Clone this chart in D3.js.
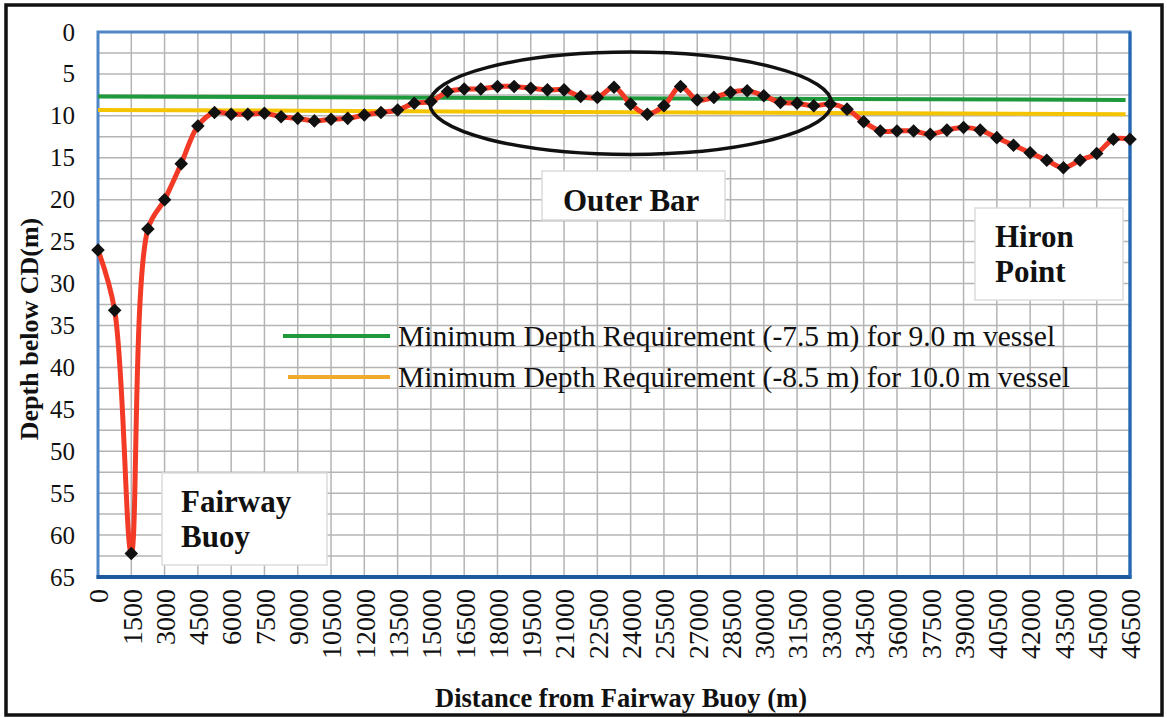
<!DOCTYPE html>
<html>
<head>
<meta charset="utf-8">
<script src="https://cdn.jsdelivr.net/npm/d3@7"></script>
<style>
  body { margin: 0; background: #fff; }
  svg text { font-family: "Liberation Serif", "Times New Roman", serif; fill: #111; }
</style>
</head>
<body>
<div id="chart"></div>
<script>
// distance from fairway buoy (m), one sounding every 750 m
var distances = [0, 750, 1500, 2250, 3000, 3750, 4500, 5250, 6000, 6750, 7500, 8250, 9000, 9750,
  10500, 11250, 12000, 12750, 13500, 14250, 15000, 15750, 16500, 17250, 18000, 18750, 19500,
  20250, 21000, 21750, 22500, 23250, 24000, 24750, 25500, 26250, 27000, 27750, 28500, 29250,
  30000, 30750, 31500, 32250, 33000, 33750, 34500, 35250, 36000, 36750, 37500, 38250, 39000,
  39750, 40500, 41250, 42000, 42750, 43500, 44250, 45000, 45750, 46500];

// depth below chart datum (m)
var depths = [26.0, 33.2, 62.2, 23.5, 20.0, 15.7, 11.2, 9.6, 9.8, 9.8, 9.7, 10.1, 10.3, 10.6,
  10.4, 10.3, 9.9, 9.6, 9.3, 8.5, 8.3, 7.1, 6.8, 6.8, 6.5, 6.5, 6.7,
  6.9, 6.9, 7.7, 7.8, 6.6, 8.6, 9.8, 8.8, 6.5, 8.1, 7.8, 7.2, 7.0,
  7.6, 8.4, 8.5, 8.8, 8.6, 9.2, 10.7, 11.8, 11.8, 11.8, 12.2, 11.7, 11.4,
  11.7, 12.6, 13.5, 14.4, 15.3, 16.2, 15.3, 14.5, 12.8, 12.8];

// requirement lines as drawn (start / end)
var greenLine = [[0, 7.7], [46300, 8.1]];
var yellowLine = [[0, 9.3], [46300, 9.8]];

var xTicks = [0, 1500, 3000, 4500, 6000, 7500, 9000, 10500, 12000, 13500, 15000, 16500, 18000,
  19500, 21000, 22500, 24000, 25500, 27000, 28500, 30000, 31500, 33000, 34500, 36000, 37500,
  39000, 40500, 42000, 43500, 45000, 46500];
var yTicks = [0, 5, 10, 15, 20, 25, 30, 35, 40, 45, 50, 55, 60, 65];
var yGrid = [2.5, 5, 7.5, 10, 12.5, 15, 17.5, 20, 22.5, 25, 27.5, 30, 32.5, 35, 37.5, 40, 42.5,
  45, 47.5, 50, 52.5, 55, 57.5, 60, 62.5];

var legendLabels = ["Minimum Depth Requirement (-7.5 m) for 9.0 m vessel",
                    "Minimum Depth Requirement (-8.5 m) for 10.0 m vessel"];

// outer bar ellipse: centre distance, centre depth, half-width (m), half-height (m)
var outerBarZone = {cx: 24000, cy: 8.5, rx: 9050, ry: 6.1};

var W = 1167, H = 718;
var plotL = 98, plotR = 1130, plotT = 32, plotB = 577;

var svg = d3.select("#chart")
    .append("svg")
    .attr("width", W)
    .attr("height", H);

svg.append("rect")
    .attr("x", 6).attr("y", 5)
    .attr("width", 1156).attr("height", 710)
    .style("fill", "#fff")
    .style("stroke", "#111")
    .style("stroke-width", 3.5);

var x = d3.scaleLinear()
    .domain([0, 46500])
    .range([plotL, plotR]);

var y = d3.scaleLinear()
    .domain([0, 65])
    .range([plotT, plotB]);

// grid
svg.append("g")
    .selectAll("line")
    .data(xTicks)
    .enter()
    .append("line")
        .attr("x1", function(d) { return x(d); })
        .attr("x2", function(d) { return x(d); })
        .attr("y1", plotT)
        .attr("y2", plotB)
        .style("stroke", "#b4b4b4")
        .style("stroke-width", 1.5);

svg.append("g")
    .selectAll("line")
    .data(yGrid)
    .enter()
    .append("line")
        .attr("x1", plotL)
        .attr("x2", plotR)
        .attr("y1", function(d) { return y(d); })
        .attr("y2", function(d) { return y(d); })
        .style("stroke", "#b4b4b4")
        .style("stroke-width", 1.5);

// annotation boxes (behind the lines)
function noteBox(bx, by, bw, bh, lines, tx, ty, lh) {
    svg.append("rect")
        .attr("x", bx).attr("y", by)
        .attr("width", bw).attr("height", bh)
        .style("fill", "#fff")
        .style("stroke", "#dcdcdc")
        .style("stroke-width", 1.5);
    lines.forEach(function(t, i) {
        svg.append("text")
            .attr("x", tx)
            .attr("y", ty + i * lh)
            .style("font-size", "31px")
            .style("font-weight", "bold")
            .text(t);
    });
}
noteBox(542, 171, 183, 49, ["Outer Bar"], 563, 211, 0);
noteBox(975, 208, 148, 92, ["Hiron", "Point"], 995, 247, 35);
noteBox(162, 473, 165, 92, ["Fairway", "Buoy"], 181, 512, 35);

// plot border
svg.append("rect")
    .attr("x", plotL).attr("y", plotT)
    .attr("width", plotR - plotL).attr("height", plotB - plotT)
    .style("fill", "none")
    .style("stroke", "#4f86c6")
    .style("stroke-width", 3);
svg.append("line")
    .attr("x1", plotL - 1.5).attr("x2", plotR + 1.5)
    .attr("y1", plotB).attr("y2", plotB)
    .style("stroke", "#1d5a9e")
    .style("stroke-width", 4);
svg.append("line")
    .attr("x1", plotR).attr("x2", plotR)
    .attr("y1", plotT).attr("y2", plotB)
    .style("stroke", "#2468b4")
    .style("stroke-width", 3);

// requirement lines
var straight = d3.line()
    .x(function(d) { return x(d[0]); })
    .y(function(d) { return y(d[1]); });

svg.append("path")
    .attr("d", straight(greenLine))
    .style("fill", "none")
    .style("stroke", "#1e9a3c")
    .style("stroke-width", 4);

svg.append("path")
    .attr("d", straight(yellowLine))
    .style("fill", "none")
    .style("stroke", "#f4c400")
    .style("stroke-width", 4);

// depth profile
var profile = distances.map(function(d, i) { return [d, depths[i]]; });

var smooth = d3.line()
    .x(function(d) { return x(d[0]); })
    .y(function(d) { return y(d[1]); })
    .curve(d3.curveCatmullRom.alpha(0.5));

svg.append("path")
    .attr("d", smooth(profile))
    .style("fill", "none")
    .style("stroke", "#f23a26")
    .style("stroke-width", 5)
    .style("stroke-linejoin", "round");

svg.append("g")
    .selectAll("path")
    .data(profile)
    .enter()
    .append("path")
        .attr("d", d3.symbol().type(d3.symbolSquare).size(92))
        .attr("transform", function(d) {
            return "translate(" + x(d[0]) + "," + y(d[1]) + ") rotate(45)";
        })
        .style("fill", "#111");

// outer bar ellipse
svg.append("ellipse")
    .attr("cx", x(outerBarZone.cx))
    .attr("cy", y(outerBarZone.cy))
    .attr("rx", x(outerBarZone.rx) - x(0))
    .attr("ry", y(outerBarZone.ry) - y(0))
    .style("fill", "none")
    .style("stroke", "#111")
    .style("stroke-width", 3.5);

// axes
var yAxis = svg.append("g")
    .attr("transform", "translate(" + plotL + ",0)")
    .call(d3.axisLeft(y).tickValues(yTicks).tickSize(0).tickPadding(23));
yAxis.select(".domain").remove();
yAxis.selectAll("text")
    .style("font-size", "25px")
    .style("font-family", "'Liberation Serif', serif")
    .style("fill", "#111");

var xAxis = svg.append("g")
    .attr("transform", "translate(0," + plotB + ")")
    .call(d3.axisBottom(x).tickValues(xTicks).tickFormat(d3.format("d")).tickSize(0));
xAxis.select(".domain").remove();
xAxis.selectAll("text")
    .attr("transform", "rotate(-90)")
    .attr("x", -12)
    .attr("y", 0)
    .attr("dy", "0.35em")
    .style("text-anchor", "end")
    .style("font-size", "28px")
    .style("font-family", "'Liberation Serif', serif")
    .style("fill", "#111");

// axis titles
svg.append("text")
    .attr("transform", "translate(38,329) rotate(-90)")
    .style("text-anchor", "middle")
    .style("font-size", "26px")
    .style("font-weight", "bold")
    .text("Depth below CD(m)");

svg.append("text")
    .attr("x", 621)
    .attr("y", 707)
    .style("text-anchor", "middle")
    .style("font-size", "26.5px")
    .style("font-weight", "bold")
    .text("Distance from Fairway Buoy (m)");

// legend
var legendColors = ["#1e9a3c", "#f0a92c"];
var legendStarts = [283, 288];
legendLabels.forEach(function(t, i) {
    var ly = 336 + i * 41;
    svg.append("line")
        .attr("x1", legendStarts[i]).attr("x2", 390)
        .attr("y1", ly).attr("y2", ly)
        .style("stroke", legendColors[i])
        .style("stroke-width", 4);
    svg.append("text")
        .attr("x", 398)
        .attr("y", ly + 10)
        .style("font-size", "29.5px")
        .text(t);
});
</script>
</body>
</html>
